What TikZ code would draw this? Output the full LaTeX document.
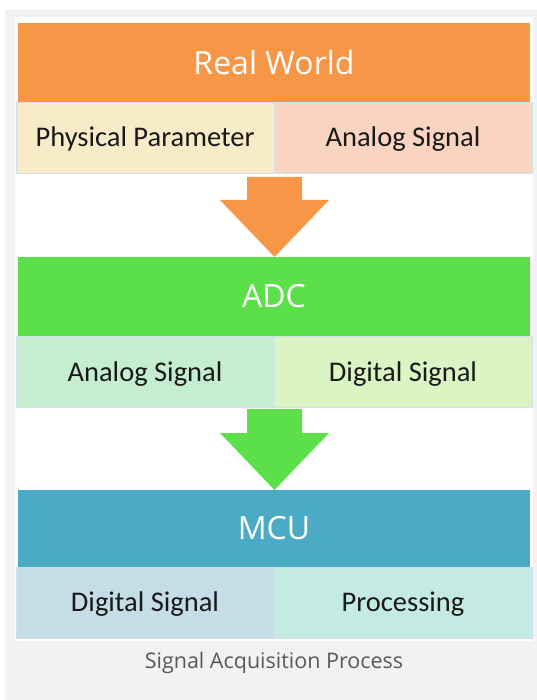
\documentclass[tikz,border=0pt]{standalone}
\usepackage{fontspec}
\setmainfont{Carlito}
\newfontfamily\titlefont{Open Sans}
\definecolor{frameGray}{HTML}{F2F2F2}
\definecolor{rwOrange}{HTML}{F79646}
\definecolor{cellYellow}{HTML}{F8EBC8}
\definecolor{cellPeach}{HTML}{F9D4C1}
\definecolor{adcGreen}{HTML}{5CE04A}
\definecolor{cellMint}{HTML}{C5EDCF}
\definecolor{cellLime}{HTML}{DAF4C4}
\definecolor{mcuBlue}{HTML}{4BABC6}
\definecolor{cellBlue}{HTML}{C5DDE6}
\definecolor{cellTeal}{HTML}{C3EBE1}
\definecolor{cellBorder}{HTML}{CFE2EC}
\definecolor{capGray}{HTML}{595959}
\tikzset{
  bar/.style={fill=#1, draw=none, minimum width=512pt, minimum height=79pt, inner sep=0pt,
    text=white, font=\titlefont\fontsize{32}{36}\selectfont},
  cell/.style={fill=#1, draw=cellBorder, line width=0.8pt, minimum width=258pt, minimum height=71pt,
    inner sep=0pt, text height=22pt, text depth=4pt, text=black!90, font=\fontsize{28.5}{32}\selectfont},
  bigarrow/.style={fill=#1, draw=none}
}
\begin{document}
\begin{tikzpicture}[x=1pt,y=-1pt]
\useasboundingbox (0,0) rectangle (537,700);
\fill[frameGray] (5,10) rectangle (537,700);
\fill[white] (15,17) rectangle (533,641);
% Real World
\node[bar=rwOrange] (rw) at (274,62.5) {Real World};
\node[cell=cellYellow] (pp) at (145,137.5) {Physical Parameter};
\node[cell=cellPeach] (as1) at (403,137.5) {Analog Signal};
% arrow 1
\fill[bigarrow=rwOrange] (247,177) -- (302,177) -- (302,200) -- (329,200) -- (274.5,257) -- (220,200) -- (247,200) -- cycle;
% ADC
\node[bar=adcGreen] (adc) at (274,296.5) {ADC};
\node[cell=cellMint] (as2) at (145,372) {Analog Signal};
\node[cell=cellLime] (ds1) at (403,372) {Digital Signal};
% arrow 2
\fill[bigarrow=adcGreen] (247,409) -- (302,409) -- (302,433) -- (329,433) -- (274.5,490) -- (220,433) -- (247,433) -- cycle;
% MCU
\node[bar=mcuBlue, minimum height=77pt] (mcu) at (274,528.5) {MCU};
\node[cell=cellBlue] (ds2) at (145,602.5) {Digital Signal};
\node[cell=cellTeal] (proc) at (403,602.5) {Processing};
% caption
\node[text=capGray, font=\titlefont\fontsize{21.5}{24}\selectfont] (cap) at (274,663) {Signal Acquisition Process};
\end{tikzpicture}
\end{document}
